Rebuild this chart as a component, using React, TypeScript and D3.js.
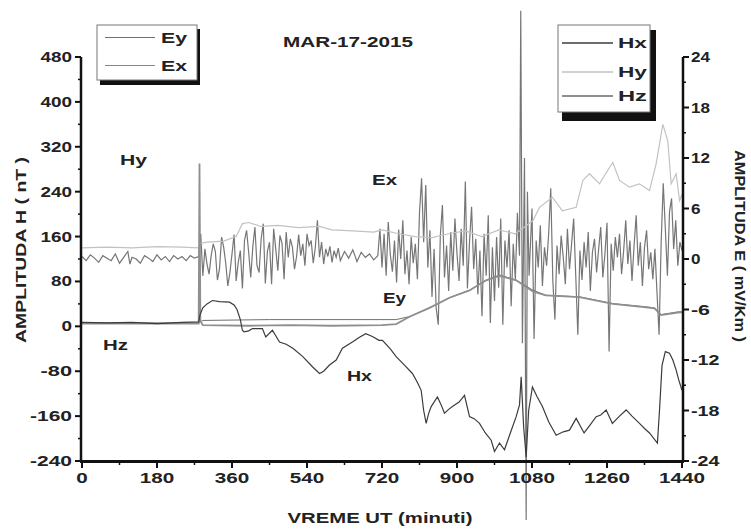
import * as d3 from 'd3';
import React from 'react';

// time in minutes (UT), H components in nT (left axis), E components in mV/km (right axis)
const hx: [number, number][] = [
  [0, 7], [60, 6], [120, 7], [180, 5], [240, 7], [280, 8], [283, 20], [290, 33], [300, 40], [313, 46],
  [330, 44], [354, 43], [365, 38], [372, 30], [380, 12], [385, -7], [389, -10], [400, -8], [409, -4], [433, -4],
  [441, -19], [457, -7], [474, -28], [490, -32], [506, -39], [530, -54], [553, -72], [570, -84], [580, -80],
  [594, -69], [610, -60], [625, -39], [649, -28], [665, -20], [681, -13], [697, -18], [713, -25], [721, -25],
  [740, -40], [754, -54], [775, -70], [793, -84], [805, -100], [814, -114], [820, -150], [826, -173],
  [832, -155], [838, -143], [853, -126], [862, -140], [870, -155], [880, -148], [889, -143], [905, -135],
  [918, -123], [930, -161], [942, -165], [954, -173], [968, -190], [982, -203], [990, -223], [1002, -208],
  [1014, -220], [1028, -190], [1042, -161], [1050, -140], [1054, -90], [1060, -180], [1066, -233],
  [1072, -150], [1081, -108], [1092, -125], [1105, -143], [1120, -170], [1138, -194], [1155, -188],
  [1170, -185], [1186, -164], [1205, -190], [1220, -175], [1234, -161], [1245, -158], [1258, -149],
  [1273, -173], [1290, -160], [1306, -149], [1320, -160], [1338, -173], [1350, -182], [1362, -190],
  [1381, -208], [1386, -150], [1392, -70], [1400, -45], [1410, -48], [1418, -60], [1426, -78],
  [1432, -95], [1440, -114],
];

const hy: [number, number][] = [
  [0, 140], [60, 141], [120, 140], [180, 142], [240, 141], [280, 140], [285, 148], [300, 150], [340, 152],
  [370, 160], [385, 183], [400, 185], [430, 178], [470, 180], [520, 176], [570, 178], [600, 172],
  [650, 170], [700, 168], [720, 172], [760, 165], [800, 160], [840, 158], [880, 165], [920, 170],
  [960, 160], [1000, 172], [1040, 165], [1082, 188], [1098, 212], [1129, 230], [1153, 206], [1186, 212],
  [1202, 260], [1218, 272], [1242, 254], [1266, 283], [1274, 292], [1290, 260], [1314, 248], [1338, 254],
  [1362, 242], [1378, 290], [1394, 360], [1406, 330], [1414, 254], [1426, 272], [1434, 224], [1440, 235],
];

const hz: [number, number][] = [
  [0, 5], [280, 5], [282, 290], [284, 10], [290, 2], [400, 1], [500, 2], [600, 1], [720, 2], [754, 4],
  [786, 17], [834, 33], [882, 51], [930, 64], [970, 82], [1002, 90], [1042, 82], [1082, 62], [1113, 55],
  [1194, 52], [1274, 40], [1354, 34], [1374, 32], [1390, 20], [1434, 25], [1440, 25],
];

const ex: [number, number][] = [
  [0, 0.3], [10, -0.2], [20, 0.5], [30, 0.1], [40, -0.4], [50, 0.4], [60, 0.1], [70, -0.2], [80, 0.6],
  [90, -0.5], [100, 0.2], [110, 0.9], [115, -0.6], [120, 0.2], [130, 0.0], [140, -0.5], [150, 0.4],
  [160, 0.1], [170, -0.3], [180, 0.5], [190, -0.1], [200, 0.3], [210, -0.3], [220, 0.4], [230, 0.0],
  [240, 0.3], [250, -0.2], [260, 0.4], [270, 0.1], [280, 0.3],
  [285, 3.0], [290, -2.0], [295, 1.2], [300, -0.6], [305, -1.8], [310, 0.4], [315, 1.8], [320, 0.9],
  [325, -2.5], [330, -1.2], [335, 2.6], [340, 1.4], [345, -0.5], [350, -3.2], [355, -1.6], [360, 0.6],
  [365, 2.9], [370, -2.6], [375, -0.4], [380, 1.0], [385, -3.5], [390, 2.2], [395, 3.4], [400, 0.8],
  [405, -2.2], [410, 1.5], [415, 3.8], [420, -0.8], [425, -1.6], [430, 2.4], [435, 4.2], [440, -2.9],
  [445, 0.9], [450, 2.0], [455, -3.0], [460, 3.6], [465, 1.2], [470, -1.4], [475, 2.8], [480, 1.9],
  [485, -2.4], [490, 3.2], [495, 0.2], [500, 2.4], [505, 1.4], [510, -1.2], [515, 0.3], [520, 2.9],
  [525, 0.4], [530, 1.8], [535, -0.8], [540, 3.0], [545, 1.6], [550, 2.2], [555, -0.5], [560, 1.4],
  [565, 4.6], [570, 0.2], [575, 2.0], [580, -0.6], [585, 1.2], [590, 0.3], [595, 1.5], [600, -0.4],
  [605, 1.0], [610, 0.2], [615, 1.3], [620, -0.2], [630, 0.9], [640, 0.1], [650, 1.1], [660, -0.3],
  [670, 0.8], [680, 0.2], [690, 0.6], [700, -0.1], [710, 0.4], [715, 3.6], [720, -1.0],
  [725, 3.0], [730, -2.0], [735, 4.4], [740, 0.5], [745, -1.5], [750, 2.2], [755, -2.8], [760, 3.5],
  [765, 0.0], [770, 4.6], [775, -1.8], [780, 1.0], [785, -3.0], [790, 2.6], [795, -0.5], [800, 1.8],
  [805, -2.4], [810, 5.5], [815, 9.6], [820, 2.0], [825, 8.8], [830, -1.0], [835, 3.4], [840, -4.5],
  [845, 1.2], [850, -5.8], [855, -7.8], [860, 2.8], [865, 6.4], [870, -2.2], [875, 1.6], [880, -3.8],
  [885, 3.2], [890, -1.4], [895, 4.8], [900, 0.6], [905, -2.6], [910, 3.6], [915, -0.8], [920, 9.2],
  [925, -3.5], [930, 2.0], [935, 6.2], [940, -1.2], [945, 2.4], [950, -4.2], [955, 1.0], [960, -6.8],
  [965, 3.0], [970, -2.0], [975, 5.2], [980, -7.6], [985, 1.4], [990, -5.0], [995, 2.6], [1000, -3.4],
  [1005, 4.8], [1010, -7.8], [1015, 2.2], [1020, -1.0], [1025, 3.4], [1030, -5.6], [1035, 1.8],
  [1040, -2.4], [1045, 5.5], [1050, 0.4], [1053, 29.5], [1057, -10.0], [1062, 12.0], [1066, -31.0],
  [1069, 8.0], [1073, -2.0],
  [1080, 6.0], [1085, -9.5], [1090, 2.2], [1095, -1.0], [1100, 4.0], [1105, -3.2], [1110, 1.4],
  [1115, -0.8], [1120, 3.0], [1125, 8.4], [1130, -2.6], [1135, -7.2], [1140, 1.6], [1145, -1.8],
  [1150, 2.8], [1155, 0.2], [1160, -3.0], [1165, 3.6], [1170, -1.2], [1175, 1.8], [1180, 4.8],
  [1185, -2.0], [1190, -9.0], [1195, 1.0], [1200, -2.5], [1205, 2.0], [1210, -1.0], [1215, 3.2],
  [1220, -3.8], [1225, 0.8], [1230, 2.4], [1235, -1.6], [1240, 1.2], [1245, 3.8], [1250, -2.2],
  [1255, 0.6], [1260, 4.3], [1265, -11.0], [1270, 1.8], [1275, -1.4], [1280, 2.6], [1285, 0.2],
  [1290, 3.0], [1295, -1.8], [1300, 1.0], [1305, 4.6], [1310, -0.6], [1315, 2.2], [1320, -2.6],
  [1325, 1.6], [1330, 5.2], [1335, -0.8], [1340, 2.0], [1345, -3.2], [1350, 1.4], [1355, 3.4],
  [1360, -1.2], [1365, 0.8], [1370, -2.4], [1375, 1.2], [1380, -4.0], [1385, -9.0], [1390, 2.0],
  [1395, 9.0], [1400, 3.6], [1405, -2.0], [1410, 5.6], [1415, 7.2], [1420, 1.2], [1425, 4.6],
  [1430, -0.8], [1435, 2.0], [1440, 1.0],
];

const ey: [number, number][] = [
  [0, -7.6], [280, -7.6], [290, -7.3], [450, -7.2], [600, -7.2], [720, -7.2], [754, -7.2], [786, -6.84],
  [834, -5.8], [882, -4.6], [930, -3.7], [970, -2.5], [1002, -1.9], [1042, -2.5], [1082, -3.7],
  [1113, -4.3], [1194, -4.5], [1274, -5.3], [1354, -5.7], [1374, -5.8], [1390, -6.6], [1434, -6.25],
  [1440, -6.3],
];

const xTicks = [0, 180, 360, 540, 720, 900, 1080, 1260, 1440];
const hTicks = [-240, -160, -80, 0, 80, 160, 240, 320, 400, 480];
const eTicks = [-24, -18, -12, -6, 0, 6, 12, 18, 24];

const FONT = '"Liberation Sans", Arial, sans-serif';

export default function App() {
  const x = d3.scaleLinear().domain([0, 1440]).range([82, 682]);
  const yH = d3.scaleLinear().domain([-240, 480]).range([461, 57]);
  const yE = d3.scaleLinear().domain([-24, 24]).range([461, 57]);

  const lineH = d3.line<[number, number]>().x(d => x(d[0])).y(d => yH(d[1]));
  const lineE = d3.line<[number, number]>().x(d => x(d[0])).y(d => yE(d[1]));

  const xMinor = d3.range(90, 1440, 180);
  const hMinor = d3.range(-200, 480, 40).filter(v => v % 80 !== 0);
  const eMinor = d3.range(-21, 24, 6);

  const lbl = (t: string, px: number, py: number, w: number, anchor = 'start', size = 14) => (
    <text x={px} y={py} fontSize={size} fontWeight="bold" textAnchor={anchor}
      textLength={w} lengthAdjust="spacingAndGlyphs">{t}</text>
  );

  return (
    <svg width={751} height={531} style={{ position: 'absolute', left: 0, top: 0, background: '#fff' }}
      fontFamily={FONT} fill="#222">
      {/* series */}
      <path d={lineE(ex) ?? ''} fill="none" stroke="#767676" strokeWidth={1.2} />
      <path d={lineH(hy) ?? ''} fill="none" stroke="#c2c2c2" strokeWidth={1.2} />
      <path d={lineE(ey) ?? ''} fill="none" stroke="#707070" strokeWidth={1} />
      <path d={lineH(hz) ?? ''} fill="none" stroke="#8f8f8f" strokeWidth={1.8} />
      <path d={lineH(hx) ?? ''} fill="none" stroke="#3c3c3c" strokeWidth={1.2} />

      {/* left axis */}
      <line x1={81} x2={81} y1={57} y2={462} stroke="#111" strokeWidth={2.5} />
      {hTicks.map(v => (
        <g key={'h' + v}>
          <line x1={75} x2={81} y1={yH(v)} y2={yH(v)} stroke="#111" strokeWidth={2} />
          {lbl(String(v), 72, yH(v) + 5, String(v).length * 10.5, 'end')}
        </g>
      ))}
      {hMinor.map(v => (
        <line key={'hm' + v} x1={78} x2={81} y1={yH(v)} y2={yH(v)} stroke="#111" strokeWidth={1.5} />
      ))}

      {/* right axis */}
      <line x1={683} x2={683} y1={57} y2={462} stroke="#111" strokeWidth={2.5} />
      {eTicks.map(v => (
        <g key={'e' + v}>
          <line x1={683} x2={689} y1={yE(v)} y2={yE(v)} stroke="#111" strokeWidth={2} />
          {lbl(String(v), 691, yE(v) + 5, String(v).length * 9.5, 'start')}
        </g>
      ))}
      {eMinor.map(v => (
        <line key={'em' + v} x1={683} x2={686} y1={yE(v)} y2={yE(v)} stroke="#111" strokeWidth={1.5} />
      ))}

      {/* bottom axis */}
      <line x1={80} x2={684} y1={461.5} y2={461.5} stroke="#111" strokeWidth={3} />
      {xTicks.map(v => (
        <g key={'x' + v}>
          <line x1={x(v)} x2={x(v)} y1={461} y2={468} stroke="#111" strokeWidth={2} />
          {lbl(String(v), x(v), 483, String(v).length * 11.5, 'middle')}
        </g>
      ))}
      {xMinor.map(v => (
        <line key={'xm' + v} x1={x(v)} x2={x(v)} y1={461} y2={465} stroke="#111" strokeWidth={1.5} />
      ))}

      {/* titles */}
      {lbl('MAR-17-2015', 348, 47, 130, 'middle')}
      {lbl('VREME UT (minuti)', 380, 523, 185, 'middle')}
      <g transform="translate(26,250) rotate(-90)">
        {lbl('AMPLITUDA H ( nT )', 0, 0, 186, 'middle')}
      </g>
      <g transform="translate(735,246) rotate(90)">
        {lbl('AMPLITUDA E ( mV/Km )', 0, 0, 192, 'middle')}
      </g>

      {/* in-plot labels */}
      {lbl('Hy', 120, 165, 27)}
      {lbl('Hz', 103, 350, 25)}
      {lbl('Hx', 347, 381, 25)}
      {lbl('Ex', 372, 185, 25)}
      {lbl('Ey', 383, 303, 23)}

      {/* legend E */}
      <rect x={100} y={29} width={100} height={56} fill="#111" />
      <rect x={97} y={25} width={100} height={55} fill="#fff" stroke="#777" strokeWidth={1} />
      <line x1={105} x2={155} y1={37.5} y2={37.5} stroke="#707070" strokeWidth={1} />
      <line x1={105} x2={155} y1={65.5} y2={65.5} stroke="#858585" strokeWidth={1} />
      {lbl('Ey', 161, 43, 26)}
      {lbl('Ex', 161, 71, 26)}

      {/* legend H */}
      <rect x={562} y={30} width={94} height={91} fill="#111" />
      <rect x={558} y={25} width={92} height={87} fill="#fff" stroke="#777" strokeWidth={1} />
      <line x1={562} x2={613} y1={43} y2={43} stroke="#3c3c3c" strokeWidth={1.5} />
      <line x1={562} x2={613} y1={72} y2={72} stroke="#c2c2c2" strokeWidth={1.5} />
      <line x1={562} x2={613} y1={96} y2={96} stroke="#8f8f8f" strokeWidth={2} />
      {lbl('Hx', 618, 48, 29)}
      {lbl('Hy', 618, 77, 29)}
      {lbl('Hz', 618, 101, 29)}
    </svg>
  );
}
